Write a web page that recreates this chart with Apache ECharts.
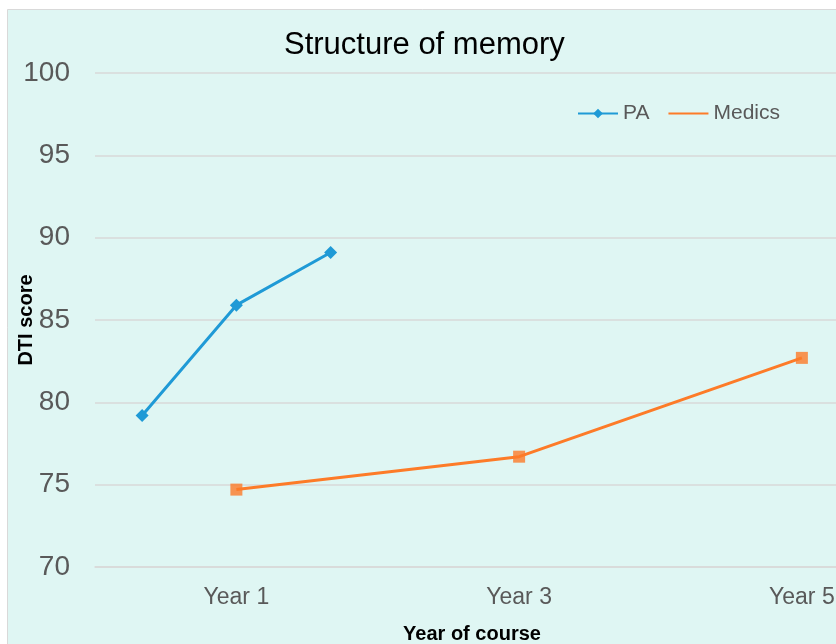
<!DOCTYPE html>
<html>
<head>
<meta charset="utf-8">
<script src="https://cdn.jsdelivr.net/npm/echarts@6/dist/echarts.min.js"></script>
<style>
html,body{margin:0;padding:0;background:#ffffff;}
#chart{width:836px;height:644px;}
</style>
</head>
<body>
<div id="chart"></div>
<script>
const categories = ["", "Year 1", "", "", "Year 3", "", "", "Year 5"];
const paValues = [79.2, 85.9, 89.1, null, null, null, null, null];
const medicsValues = [null, 74.7, null, null, 76.7, null, null, 82.7];
const yTicks = [70, 75, 80, 85, 90, 95, 100];

const chart = echarts.init(document.getElementById('chart'), null, {renderer: 'canvas'});
const labelFont = '"Liberation Sans", Arial, sans-serif';
chart.setOption({
  animation: false,
  backgroundColor: '#ffffff',
  graphic: [{
    type: 'rect', z: -10, silent: true,
    shape: {x: 7.5, y: 9.5, width: 850, height: 660},
    style: {fill: '#dff6f3', stroke: '#d9d9d9', lineWidth: 1}
  }],
  title: {
    text: 'Structure of memory',
    left: 284, top: 30, padding: 0,
    textStyle: {fontFamily: labelFont, fontSize: 31, fontWeight: 'normal', color: '#000000'}
  },
  legend: {
    data: ['PA', {name: 'Medics', itemStyle: {opacity: 0}}],
    left: 577, top: 103, padding: 0,
    itemWidth: 40, itemHeight: 12, itemGap: 18,
    textStyle: {fontFamily: labelFont, fontSize: 21, color: '#595959'}
  },
  grid: {left: 95, right: -13, top: 73, bottom: 77, outerBoundsMode: 'none', containLabel: false},
  xAxis: {
    type: 'category',
    data: categories,
    boundaryGap: true,
    axisLine: {show: true, lineStyle: {color: '#d9d9d9', width: 1.5}},
    axisTick: {show: false},
    axisLabel: {interval: 0, margin: 19, fontFamily: labelFont, fontSize: 23, color: '#595959'},
    name: 'Year of course',
    nameLocation: 'middle',
    nameGap: 57,
    nameMoveOverlap: false,
    nameTextStyle: {fontFamily: labelFont, fontSize: 20, fontWeight: 'bold', color: '#000000'}
  },
  yAxis: {
    type: 'value',
    min: yTicks[0], max: yTicks[yTicks.length - 1], interval: 5,
    axisLine: {show: false},
    axisTick: {show: false},
    splitLine: {lineStyle: {color: '#d9d9d9', width: 1.5}},
    axisLabel: {margin: 25, fontFamily: labelFont, fontSize: 28, color: '#595959'},
    name: 'DTI score',
    nameLocation: 'middle',
    nameGap: 59,
    nameRotate: 90,
    nameMoveOverlap: false,
    nameTextStyle: {fontFamily: labelFont, fontSize: 20, fontWeight: 'bold', color: '#000000'}
  },
  series: [
    {
      name: 'PA', type: 'line', data: paValues,
      symbol: 'diamond', symbolSize: 13,
      lineStyle: {color: '#1f9ad6', width: 3},
      itemStyle: {color: '#1f9ad6'},
      connectNulls: true
    },
    {
      name: 'Medics', type: 'line', data: medicsValues,
      symbol: 'none',
      lineStyle: {color: '#fd7b28', width: 3},
      itemStyle: {color: '#fd7b28'},
      connectNulls: true
    },
    {
      name: 'Medics markers', type: 'scatter', data: medicsValues,
      symbol: 'rect', symbolSize: 12,
      itemStyle: {color: '#fd7b28'}
    }
  ]
});
</script>
</body>
</html>
